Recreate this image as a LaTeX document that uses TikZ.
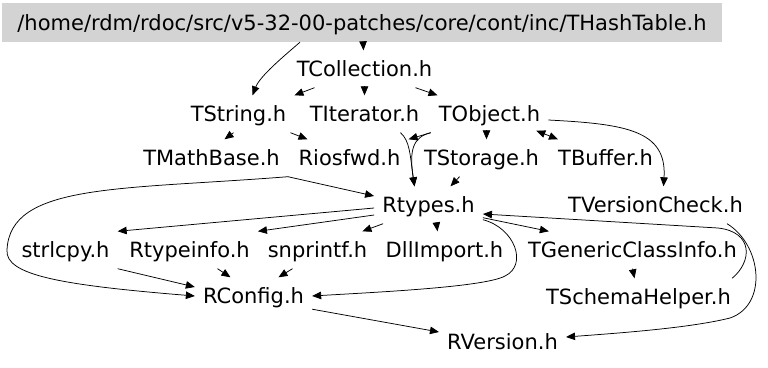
\documentclass[tikz,border=0pt]{standalone}
\usepackage{fontspec}
\setmainfont{DejaVu Sans}
\usetikzlibrary{arrows.meta}

\definecolor{rootgray}{RGB}{211,211,211}

\tikzstyle{dedge} = [->,>={Triangle[length=9pt,width=7.5pt]},draw=black,line width=0.75pt]
\tikzstyle{dbedge} = [<->,>={Triangle[length=9pt,width=7.5pt]},draw=black,line width=0.75pt]
\tikzstyle{file}=[
  rectangle,
  align=center,
  anchor=center,
  inner xsep=8pt,
  minimum height=37pt,
  text height=15.3pt,
  text depth=0pt,
  font=\fontsize{21}{25}\selectfont,
]
\tikzstyle{mainfile}=[
  file,
  fill=rootgray,
  minimum width=720pt,
  minimum height=39pt,
]

\begin{document}
\begin{tikzpicture}[x=1pt,y=1pt]
  \useasboundingbox (0,0) rectangle (768,-367);

  \node[mainfile] (hashtable) at (362,-22.5) {/home/rdm/rdoc/src/v5-32-00-patches/core/cont/inc/THashTable.h};
  \node[file] (collection) at ([xshift=2.5pt, yshift=-46.5pt] hashtable.center) {TCollection.h};

  \node[file] (iterator) at ([yshift=-45pt] collection.center) {TIterator.h};
  \node[file] (string) at ([xshift=-126pt] iterator.center) {TString.h};
  \node[file] (object) at ([xshift=125pt] iterator.center) {TObject.h};

  \node[file] (iosfwd) at ([xshift=-15pt, yshift=-44pt] iterator.center) {Riosfwd.h};
  \node[file] (mathbase) at ([xshift=-138pt] iosfwd.center) {TMathBase.h};
  \node[file] (storage) at ([xshift=132pt] iosfwd.center) {TStorage.h};
  \node[file] (buffer) at ([xshift=124pt] storage.center) {TBuffer.h};

  \node[file] (rtypes) at ([xshift=-53pt, yshift=-47pt] storage.center) {Rtypes.h};
  \node[file] (versioncheck) at ([xshift=227pt] rtypes.center) {TVersionCheck.h};

  \node[file] (dllimport) at ([xshift=16pt, yshift=-45pt] rtypes.center) {DllImport.h};
  \node[file] (snprintf) at ([xshift=-127pt] dllimport.center) {snprintf.h};
  \node[file] (typeinfo) at ([xshift=-128pt] snprintf.center) {Rtypeinfo.h};
  \node[file] (strlcpy) at ([xshift=-124pt] typeinfo.center) {strlcpy.h};
  \node[file] (generic) at ([xshift=188pt] dllimport.center) {TGenericClassInfo.h};

  \node[file] (config) at ([xshift=-64pt, yshift=-46pt] snprintf.center) {RConfig.h};
  \node[file] (schema) at ([xshift=6pt, yshift=-47pt] generic.center) {TSchemaHelper.h};
  \node[file] (version) at ([xshift=249pt, yshift=-46pt] config.center) {RVersion.h};

  % includes of THashTable.h and TCollection.h
  \draw[dedge] (hashtable) -- (collection);
  \draw[dedge] ([xshift=-62pt] hashtable.south) .. controls (284,-56) and (260,-76) .. ([xshift=14pt] string.north);
  \draw[dedge] ([xshift=-50pt] collection.south) -- (string.north east);
  \draw[dedge] (collection) -- (iterator);
  \draw[dedge] ([xshift=51pt] collection.south) -- ([xshift=-52pt] object.north);

  % TString.h
  \draw[dedge] ([xshift=-5pt] string.south) -- ([xshift=13pt] mathbase.north);
  \draw[dedge] ([xshift=-4pt] string.south east) -- ([xshift=-42pt] iosfwd.north);

  % TIterator.h and TObject.h
  \draw[dedge] ([xshift=36pt] iterator.south) .. controls (410,-141) and (410,-155) .. ([xshift=-14pt] rtypes.north);
  \draw[dedge] (object.south west) .. controls (413,-137) and (409,-150) .. ([xshift=-14pt] rtypes.north);
  \draw[dedge] (object.south west) -- (iosfwd.north east);
  \draw[dedge] ([xshift=-3pt] object.south) -- ([xshift=5pt] storage.north);
  \draw[dbedge] ([xshift=-12pt, yshift=2pt] object.south east) -- ([xshift=8pt] buffer.north west);
  \draw[dedge] ([yshift=-6pt] object.east) .. controls (625,-124) and (667,-130) .. ([xshift=8pt] versioncheck.north);

  % TStorage.h and TMathBase.h
  \draw[dedge] ([xshift=-22pt] storage.south) -- ([xshift=22pt] rtypes.north);
  \draw[dedge] (mathbase.south east) -- ([yshift=9pt] rtypes.west);
  \draw[dedge] (mathbase.south east) .. controls (120,-190) and (10,-183) .. (7,-250)
    .. controls (5,-275) and (60,-285) .. (config.west);

  % Rtypes.h
  \draw[dedge] ([yshift=-3pt] rtypes.west) -- (strlcpy.north east);
  \draw[dedge] ([yshift=-10pt] rtypes.west) -- (typeinfo.north east);
  \draw[dedge] ([xshift=9pt] rtypes.south west) -- ([xshift=-13pt] snprintf.north east);
  \draw[dedge] ([xshift=8pt] rtypes.south) -- ([xshift=-7pt] dllimport.north);
  \draw[dedge] ([yshift=6pt] rtypes.south east) -- ([xshift=29pt] generic.north west);
  \draw[dedge] ([yshift=4pt] rtypes.south east) .. controls (515,-228) and (528,-265) .. (505,-276)
    .. controls (485,-287) and (380,-292) .. (config.east);

  % TGenericClassInfo.h, TSchemaHelper.h, TVersionCheck.h
  \draw[dedge] (generic.south) -- ([xshift=-4pt] schema.north);
  \draw[dedge] ([xshift=-7pt] schema.north east) .. controls (752,-262) and (754,-232) .. (718,-228)
    -- ([yshift=-9pt] rtypes.east);
  \draw[dedge] ([xshift=-24pt] versioncheck.south east) .. controls (762,-245) and (768,-305) .. (730,-318)
    .. controls (690,-328) and (620,-333) .. ([yshift=5pt] version.east);

  % RConfig.h
  \draw[dedge] (strlcpy.south east) -- ([yshift=9pt] config.west);
  \draw[dedge] ([xshift=28pt] typeinfo.south) -- ([xshift=-23pt] config.north);
  \draw[dedge] ([xshift=-25pt] snprintf.south) -- ([xshift=25pt] config.north);
  \draw[dedge] ([yshift=5.5pt] config.south east) -- ([yshift=10pt] version.west);
\end{tikzpicture}
\end{document}
